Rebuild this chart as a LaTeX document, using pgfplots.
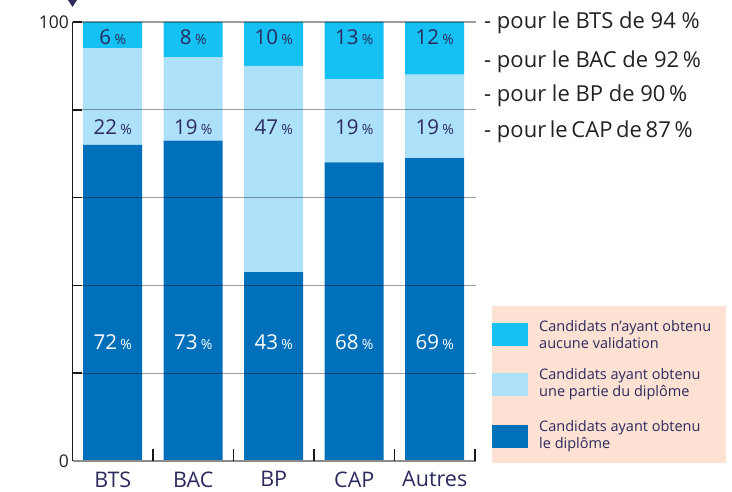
\documentclass[border=0pt]{standalone}
\usepackage{pgfplots}
\pgfplotsset{compat=1.18}
\usepackage{fontspec}
\setmainfont{Open Sans}
\definecolor{cyanbar}{HTML}{14C1F2}
\definecolor{lightbar}{HTML}{ADE0F9}
\definecolor{darkbar}{HTML}{0070BA}
\definecolor{navy}{HTML}{2B2A5E}
\definecolor{peach}{HTML}{FDE1D2}
\definecolor{txt}{HTML}{222222}
\newcommand\pct[1]{#1\,{\fontsize{14}{14}\selectfont\%}}
\begin{document}
\begin{tikzpicture}[x=1pt,y=1pt]
\path[use as bounding box] (0,0) rectangle (732,492);
\fill[navy] (68,492) -- (77,492) -- (72.5,485) -- cycle;
\begin{axis}[
  at={(72.5pt,31pt)}, anchor=south west,
  scale only axis, width=402.5pt, height=439pt,
  xmin=-0.5, xmax=4.5, ymin=0, ymax=100,
  ybar stacked, bar width=59pt,
  axis line style={draw=none},
  xtick={0,1,2,3,4}, xticklabels={BTS,BAC,BP,CAP,Autres},
  ytick={0,100}, yticklabels={\textnormal{0},\textnormal{100}},
  major tick length=0pt,
  xticklabel style={font=\fontsize{21.5}{24}\selectfont, text=navy, yshift=-7pt},
  yticklabel style={font=\fontsize{17.5}{20}\selectfont, text=txt},
  clip=false,
]
\addplot[fill=darkbar, draw=none] coordinates {(0,72) (1,73) (2,43) (3,68) (4,69)};
\addplot[fill=lightbar, draw=none] coordinates {(0,22) (1,19) (2,47) (3,19) (4,19)};
\addplot[fill=cyanbar, draw=none] coordinates {(0,6) (1,8) (2,10) (3,13) (4,12)};
\coordinate (O) at (axis cs:-0.5,0);
\coordinate (E) at (axis cs:4.51,0);
\coordinate (T) at (axis cs:-0.5,100);
\coordinate (g20) at (axis cs:-0.5,20);
\coordinate (g40) at (axis cs:-0.5,40);
\coordinate (g60) at (axis cs:-0.5,60);
\coordinate (g80) at (axis cs:-0.5,80);
\coordinate (g100) at (axis cs:-0.5,100);
\coordinate (t1) at (axis cs:0.5,0);
\coordinate (t2) at (axis cs:1.5,0);
\coordinate (t3) at (axis cs:2.5,0);
\coordinate (t4) at (axis cs:3.5,0);
\coordinate (t5) at (axis cs:4.5,0);
\coordinate (a0) at (axis cs:0,27);
\coordinate (a1) at (axis cs:1,27);
\coordinate (a2) at (axis cs:2,27);
\coordinate (a3) at (axis cs:3,27);
\coordinate (a4) at (axis cs:4,27);
\coordinate (b0) at (axis cs:0,76);
\coordinate (b1) at (axis cs:1,76);
\coordinate (b2) at (axis cs:2,76);
\coordinate (b3) at (axis cs:3,76);
\coordinate (b4) at (axis cs:4,76);
\coordinate (c0) at (axis cs:0,96.5);
\coordinate (c1) at (axis cs:1,96.5);
\coordinate (c2) at (axis cs:2,96.5);
\coordinate (c3) at (axis cs:3,96.5);
\coordinate (c4) at (axis cs:4,96.5);
\end{axis}
% grid lines over bars
\foreach \g in {g20,g40,g60,g80,g100}{
  \draw[black, opacity=0.38, line width=1.3pt] (\g) -- +(403.5,0);
  \draw[black!90, line width=1.6pt] (\g) -- +(9,0);
}
% axes
\draw[black!45, line width=1.6pt] (O) -- (E);
\draw[black!90, line width=1.6pt] (O) -- (T);
\foreach \t in {t1,t2,t3,t4,t5}{
  \draw[black!90, line width=1.6pt] (\t) -- +(0,12);
}
% value labels
\begin{scope}[every node/.style={font=\fontsize{20.5}{24}\selectfont}]
\node[white] at (a0) {\pct{72}};
\node[white] at (a1) {\pct{73}};
\node[white] at (a2) {\pct{43}};
\node[white] at (a3) {\pct{68}};
\node[white] at (a4) {\pct{69}};
\node[text=navy] at (b0) {\pct{22}};
\node[text=navy] at (b1) {\pct{19}};
\node[text=navy] at (b2) {\pct{47}};
\node[text=navy] at (b3) {\pct{19}};
\node[text=navy] at (b4) {\pct{19}};
\node[text=navy] at (c0) {\pct{6}};
\node[text=navy] at (c1) {\pct{8}};
\node[text=navy] at (c2) {\pct{10}};
\node[text=navy] at (c3) {\pct{13}};
\node[text=navy] at (c4) {\pct{12}};
\end{scope}
% legend
\fill[peach] (492,492-306) rectangle (726,492-463);
\fill[cyanbar] (492,492-323) rectangle (528,492-346);
\fill[lightbar] (492,492-373) rectangle (528,492-396);
\fill[darkbar] (492,492-425) rectangle (528,492-448);
\begin{scope}[every node/.style={anchor=west, inner sep=0pt, align=left, text=navy, font=\fontsize{14.5}{17}\selectfont}]
\node at (539,492-334.5) {Candidats n'ayant obtenu\\aucune validation};
\node at (539,492-384.5) {Candidats ayant obtenu\\une partie du diplôme};
\node at (539,492-436.5) {Candidats ayant obtenu\\le diplôme};
\end{scope}
\begin{scope}[every node/.style={anchor=base west, inner sep=0pt, font=\fontsize{22}{24}\selectfont, text=txt}]
\node at (484,492-29) {- pour le BTS de 94 \%};
\node at (484,492-68) {- pour le BAC de 92\,\%};
\node at (484,492-102) {- pour le BP de 90\,\%};
\node at (484,492-138) {- pour\,le\,CAP\,de\,87\,\%};
\end{scope}
\end{tikzpicture}
\end{document}
